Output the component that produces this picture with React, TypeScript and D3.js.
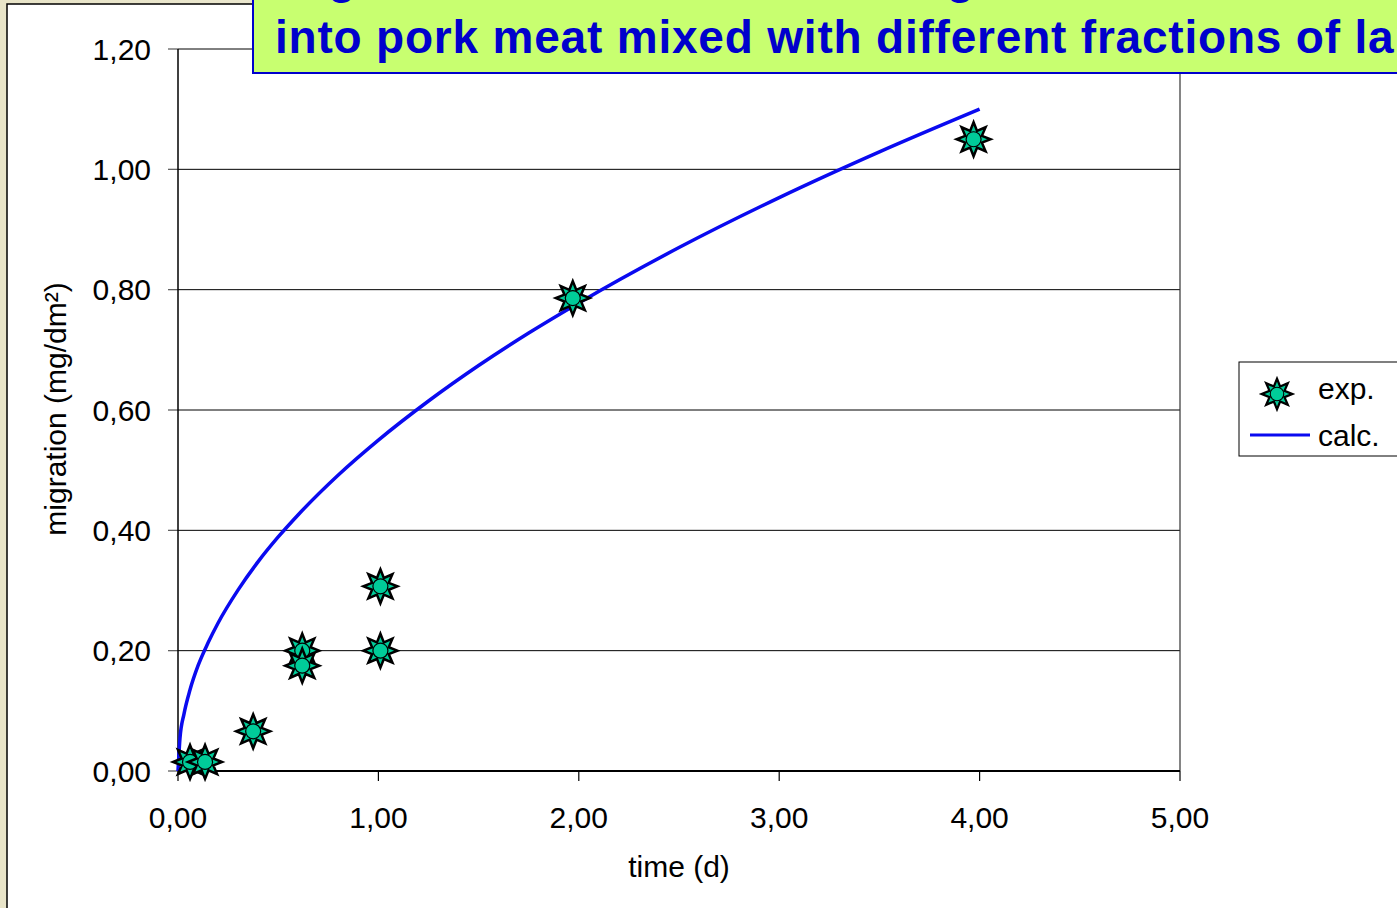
import React from "react";
import * as d3 from "d3";

// experimental points (time in days, migration mg/dm²)
const expTime = [0.06, 0.135, 0.375, 0.62, 0.62, 1.01, 1.01, 1.97, 3.97];
const expValue = [0.015, 0.015, 0.066, 0.2, 0.175, 0.307, 0.2, 0.786, 1.05];

// calculated curve
const calcTime = [0, 0.01, 0.03, 0.06, 0.1, 0.15, 0.2, 0.3, 0.4, 0.5, 0.6, 0.8, 1.0, 1.25, 1.5, 1.75, 2.0, 2.5, 3.0, 3.5, 4.0];
const calcValue = [0, 0.055, 0.095, 0.135, 0.175, 0.213, 0.246, 0.301, 0.348, 0.389, 0.426, 0.492, 0.55, 0.615, 0.674, 0.728, 0.778, 0.87, 0.953, 1.029, 1.1];

const xTicks = [0, 1, 2, 3, 4, 5];
const yTicks = [0, 0.2, 0.4, 0.6, 0.8, 1.0, 1.2];

const titleLines = [
  "Migration of the antioxidant Irganox 1076 from LDPE",
  "into pork meat mixed with different fractions of lard",
];

const W = 1397;
const H = 908;
const font = "'Liberation Sans', Arial, sans-serif";
const teal = "#00CC99";
const blue = "#0A0AF0";

// 8 point burst used as the marker
const starPath = (r1: number, r2: number) => {
  const pts: [number, number][] = [];
  for (let i = 0; i < 16; i++) {
    const a = (i * Math.PI) / 8 - Math.PI / 2;
    const r = i % 2 === 0 ? r1 : r2;
    pts.push([Math.cos(a) * r, Math.sin(a) * r]);
  }
  return "M" + pts.map(p => p.join(",")).join("L") + "Z";
};

const Marker: React.FC<{ x: number; y: number; s?: number }> = ({ x, y, s = 1 }) => (
  <g transform={`translate(${x},${y}) scale(${s})`}>
    <path d={starPath(17, 9)} fill={teal} stroke="#000" strokeWidth={2.5} strokeLinejoin="miter" />
    <circle r={7.5} fill={teal} stroke="#000" strokeWidth={1.2} />
  </g>
);

const fmt = (v: number) => v.toFixed(2).replace(".", ",");

const App: React.FC = () => {
  const x = d3.scaleLinear().domain([0, 5]).range([178, 1180]);
  const y = d3.scaleLinear().domain([0, 1.2]).range([771, 49]);

  const line = d3
    .line<number>()
    .x((_, i) => x(calcTime[i]))
    .y(d => y(d))
    .curve(d3.curveMonotoneX);

  return (
    <svg
      width={W}
      height={H}
      style={{ position: "absolute", left: 0, top: 0, display: "block" }}
      fontFamily={font}
    >
      <defs>
        <linearGradient id="edge" x1="0" x2="1" y1="0" y2="0">
          <stop offset="0" stopColor="#E8E4C8" />
          <stop offset="1" stopColor="#F4F2E6" />
        </linearGradient>
      </defs>
      <rect x={0} y={0} width={W} height={H} fill="url(#edge)" />
      <rect x={7} y={4} width={W} height={H} fill="#fff" stroke="#000" strokeWidth={1.5} />

      {/* plot frame and grid */}
      {yTicks.map(t => (
        <g key={t}>
          <line x1={x(0)} x2={x(5)} y1={y(t)} y2={y(t)} stroke="#000" strokeWidth={1} />
          <line x1={168} x2={x(0)} y1={y(t)} y2={y(t)} stroke="#555" strokeWidth={1.2} />
          <text x={151} y={y(t)} dy="0.36em" textAnchor="end" fontSize={30} fill="#000">
            {fmt(t)}
          </text>
        </g>
      ))}
      <line x1={x(5)} x2={x(5)} y1={y(1.2)} y2={y(0)} stroke="#333" strokeWidth={1.2} />
      <line x1={x(0)} x2={x(0)} y1={y(1.2)} y2={y(0)} stroke="#000" strokeWidth={1.5} />
      <line x1={x(0)} x2={x(5)} y1={y(0)} y2={y(0)} stroke="#000" strokeWidth={2} />
      {xTicks.map(t => (
        <g key={t}>
          <line x1={x(t)} x2={x(t)} y1={y(0)} y2={y(0) + 10} stroke="#000" strokeWidth={1.2} />
          <text x={x(t)} y={828} textAnchor="middle" fontSize={30} fill="#000">
            {fmt(t)}
          </text>
        </g>
      ))}

      <text x={679} y={877} textAnchor="middle" fontSize={30} fill="#000">
        time (d)
      </text>
      <text
        transform="translate(66,409) rotate(-90)"
        textAnchor="middle"
        fontSize={30}
        fill="#000"
      >
        migration (mg/dm²)
      </text>

      {/* calc curve */}
      <path d={line(calcValue) || ""} fill="none" stroke={blue} strokeWidth={3.5} />

      {/* exp markers */}
      {expValue.map((v, i) => (
        <Marker key={i} x={x(expTime[i])} y={y(v)} />
      ))}

      {/* legend */}
      <rect x={1239} y={362} width={200} height={94} fill="#fff" stroke="#000" strokeWidth={1} />
      <Marker x={1277} y={394} s={0.9} />
      <text x={1318} y={399} fontSize={30} fill="#000">
        exp.
      </text>
      <line x1={1250} x2={1310} y1={435} y2={435} stroke={blue} strokeWidth={3} />
      <text x={1318} y={446} fontSize={30} fill="#000">
        calc.
      </text>

      {/* title box */}
      <rect x={253} y={-60} width={1200} height={133} fill="#C8FF70" stroke="#0000CC" strokeWidth={2} />
      {titleLines.map((t, i) => (
        <text
          key={i}
          x={275}
          y={i === 0 ? -7 : 53}
          fontSize={46}
          letterSpacing={0.8}
          fontWeight="bold"
          fill="#0000CC"
        >
          {t}
        </text>
      ))}
    </svg>
  );
};

export default App;
